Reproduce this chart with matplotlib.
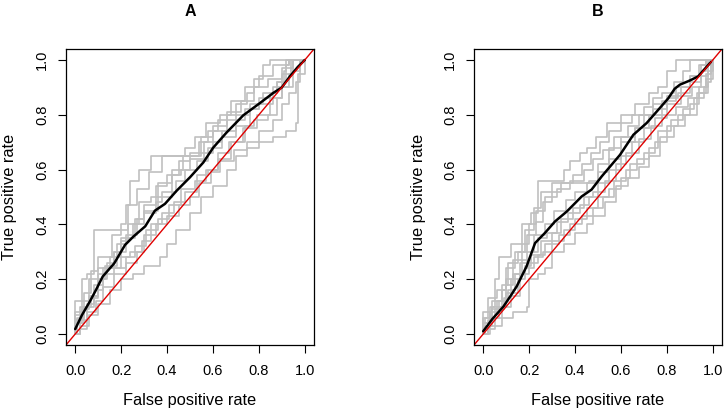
import matplotlib
matplotlib.use("Agg")
import matplotlib.pyplot as plt

plt.rcParams['font.family'] = ['Liberation Sans', 'DejaVu Sans']

# gray ROC curves, panel A: (fpr, tpr) corners after each rise
rocs_a = [
    [(0, 0), (0, 0.12), (0.03, 0.2), (0.05, 0.22), (0.08, 0.38), (0.23, 0.47), (0.24, 0.56), (0.28, 0.6),
     (0.33, 0.65), (0.54, 0.7), (0.58, 0.74), (0.62, 0.78), (0.66, 0.8), (0.7, 0.84), (0.75, 0.88),
     (0.78, 0.93), (0.82, 0.98), (0.85, 1.0), (1.0, 1.0)],
    [(0, 0), (0, 0.07), (0.04, 0.15), (0.07, 0.23), (0.1, 0.28), (0.16, 0.36), (0.2, 0.4), (0.22, 0.47),
     (0.27, 0.53), (0.32, 0.59), (0.38, 0.65), (0.48, 0.68), (0.52, 0.72), (0.57, 0.77), (0.63, 0.8),
     (0.68, 0.85), (0.74, 0.9), (0.8, 0.94), (0.86, 0.98), (0.93, 1.0), (1, 1)],
    [(0, 0), (0.02, 0.05), (0.05, 0.11), (0.08, 0.18), (0.12, 0.24), (0.17, 0.3), (0.22, 0.35), (0.26, 0.42),
     (0.3, 0.47), (0.35, 0.54), (0.4, 0.58), (0.45, 0.63), (0.5, 0.66), (0.55, 0.72), (0.6, 0.76),
     (0.66, 0.81), (0.72, 0.85), (0.78, 0.9), (0.84, 0.93), (0.9, 0.97), (0.95, 1.0), (1, 1)],
    [(0, 0), (0.02, 0.03), (0.06, 0.07), (0.1, 0.11), (0.15, 0.16), (0.2, 0.2), (0.25, 0.22), (0.3, 0.25),
     (0.37, 0.28), (0.4, 0.33), (0.44, 0.38), (0.5, 0.44), (0.55, 0.5), (0.6, 0.54), (0.66, 0.6),
     (0.7, 0.65), (0.75, 0.68), (0.8, 0.7), (0.86, 0.72), (0.92, 0.74), (0.96, 0.77), (0.97, 0.95), (1, 1)],
    [(0, 0), (0.01, 0.06), (0.04, 0.1), (0.07, 0.14), (0.1, 0.2), (0.14, 0.24), (0.2, 0.28), (0.24, 0.3),
     (0.29, 0.34), (0.33, 0.4), (0.38, 0.44), (0.43, 0.48), (0.48, 0.52), (0.53, 0.58), (0.58, 0.6),
     (0.62, 0.66), (0.67, 0.7), (0.73, 0.75), (0.79, 0.8), (0.85, 0.86), (0.9, 0.9), (0.95, 0.96),
     (0.98, 1.0), (1, 1)],
    [(0, 0), (0, 0.04), (0.03, 0.09), (0.06, 0.13), (0.1, 0.2), (0.13, 0.25), (0.18, 0.33), (0.22, 0.36),
     (0.27, 0.42), (0.3, 0.45), (0.36, 0.5), (0.42, 0.58), (0.46, 0.6), (0.5, 0.64), (0.56, 0.7),
     (0.6, 0.74), (0.66, 0.78), (0.7, 0.8), (0.76, 0.84), (0.82, 0.88), (0.88, 0.92), (0.91, 0.96),
     (0.92, 1.0), (1, 1)],
    [(0, 0), (0.02, 0.02), (0.05, 0.08), (0.09, 0.12), (0.12, 0.17), (0.17, 0.22), (0.22, 0.26), (0.27, 0.3),
     (0.3, 0.36), (0.35, 0.4), (0.4, 0.43), (0.45, 0.47), (0.5, 0.5), (0.54, 0.55), (0.59, 0.59),
     (0.63, 0.63), (0.69, 0.67), (0.75, 0.7), (0.8, 0.74), (0.86, 0.78), (0.9, 0.84), (0.93, 0.88),
     (0.96, 0.92), (0.98, 1.0), (1, 1)],
    [(0, 0), (0, 0.08), (0.03, 0.12), (0.06, 0.2), (0.1, 0.24), (0.15, 0.28), (0.2, 0.34), (0.23, 0.4),
     (0.28, 0.48), (0.33, 0.5), (0.36, 0.55), (0.42, 0.6), (0.47, 0.65), (0.55, 0.66), (0.6, 0.7),
     (0.64, 0.72), (0.7, 0.76), (0.76, 0.82), (0.8, 0.86), (0.85, 0.88), (0.88, 0.92), (0.92, 0.98),
     (0.93, 1.0), (1, 1)],
    [(0, 0), (0.01, 0.04), (0.04, 0.1), (0.08, 0.16), (0.12, 0.22), (0.17, 0.24), (0.22, 0.28), (0.26, 0.32),
     (0.31, 0.38), (0.36, 0.42), (0.41, 0.47), (0.46, 0.53), (0.52, 0.56), (0.57, 0.6), (0.62, 0.64),
     (0.68, 0.7), (0.74, 0.76), (0.78, 0.78), (0.84, 0.8), (0.88, 0.86), (0.9, 0.9), (0.93, 0.95),
     (0.95, 1.0), (1, 1)],
    [(0, 0), (0, 0.05), (0.02, 0.1), (0.06, 0.14), (0.1, 0.22), (0.14, 0.26), (0.17, 0.3), (0.2, 0.35),
     (0.25, 0.4), (0.3, 0.44), (0.35, 0.48), (0.38, 0.52), (0.44, 0.56), (0.48, 0.6), (0.53, 0.63),
     (0.58, 0.68), (0.64, 0.74), (0.7, 0.78), (0.74, 0.82), (0.8, 0.84), (0.86, 0.9), (0.9, 0.95),
     (0.94, 1.0), (1, 1)],
]

rocs_b = [
    [(0, 0), (0, 0.04), (0.03, 0.1), (0.05, 0.2), (0.07, 0.28), (0.12, 0.33), (0.17, 0.4), (0.21, 0.44),
     (0.24, 0.56), (0.35, 0.6), (0.38, 0.63), (0.42, 0.66), (0.45, 0.68), (0.49, 0.72), (0.54, 0.77),
     (0.6, 0.8), (0.66, 0.84), (0.72, 0.88), (0.76, 0.9), (0.8, 0.96), (0.84, 1.0), (1, 1)],
    [(0, 0), (0.01, 0.06), (0.04, 0.1), (0.08, 0.16), (0.1, 0.24), (0.14, 0.3), (0.18, 0.38), (0.22, 0.46),
     (0.25, 0.52), (0.3, 0.55), (0.46, 0.56), (0.5, 0.62), (0.55, 0.68), (0.6, 0.72), (0.66, 0.75),
     (0.7, 0.8), (0.74, 0.84), (0.8, 0.87), (0.86, 0.9), (0.9, 0.94), (0.94, 0.98), (0.97, 1.0), (1, 1)],
    [(0, 0), (0.02, 0.05), (0.05, 0.09), (0.09, 0.13), (0.12, 0.2), (0.16, 0.26), (0.19, 0.3), (0.22, 0.36),
     (0.27, 0.4), (0.31, 0.45), (0.36, 0.49), (0.4, 0.52), (0.45, 0.55), (0.5, 0.59), (0.55, 0.64),
     (0.6, 0.7), (0.66, 0.75), (0.72, 0.8), (0.78, 0.85), (0.84, 0.9), (0.9, 0.94), (0.95, 0.98),
     (0.98, 1.0), (1, 1)],
    [(0, 0), (0.03, 0.03), (0.08, 0.06), (0.13, 0.08), (0.19, 0.1), (0.2, 0.2), (0.24, 0.22), (0.27, 0.24),
     (0.3, 0.3), (0.35, 0.33), (0.4, 0.37), (0.45, 0.4), (0.48, 0.43), (0.53, 0.48), (0.58, 0.54),
     (0.63, 0.57), (0.68, 0.61), (0.72, 0.65), (0.77, 0.72), (0.83, 0.76), (0.88, 0.8), (0.93, 0.88),
     (0.98, 0.92), (0.99, 0.98), (1, 1)],
    [(0, 0), (0, 0.04), (0.03, 0.08), (0.06, 0.12), (0.1, 0.18), (0.13, 0.22), (0.17, 0.27), (0.21, 0.3),
     (0.24, 0.35), (0.28, 0.37), (0.32, 0.41), (0.37, 0.44), (0.42, 0.47), (0.46, 0.5), (0.5, 0.55),
     (0.55, 0.6), (0.6, 0.65), (0.65, 0.7), (0.7, 0.75), (0.75, 0.79), (0.8, 0.84), (0.86, 0.87),
     (0.91, 0.9), (0.95, 0.94), (0.98, 0.98), (1, 1)],
    [(0, 0), (0.02, 0.02), (0.05, 0.06), (0.08, 0.1), (0.12, 0.14), (0.16, 0.22), (0.2, 0.26), (0.24, 0.29),
     (0.27, 0.33), (0.33, 0.36), (0.38, 0.4), (0.43, 0.43), (0.48, 0.46), (0.52, 0.5), (0.57, 0.56),
     (0.62, 0.6), (0.67, 0.64), (0.72, 0.68), (0.76, 0.74), (0.82, 0.78), (0.87, 0.82), (0.92, 0.86),
     (0.96, 0.9), (0.98, 0.96), (1, 1)],
    [(0, 0), (0, 0.06), (0.02, 0.13), (0.06, 0.16), (0.1, 0.2), (0.13, 0.27), (0.17, 0.33), (0.2, 0.4),
     (0.23, 0.45), (0.27, 0.5), (0.32, 0.53), (0.38, 0.56), (0.44, 0.6), (0.48, 0.64), (0.52, 0.67),
     (0.57, 0.72), (0.63, 0.76), (0.68, 0.8), (0.74, 0.82), (0.8, 0.86), (0.85, 0.88), (0.9, 0.92),
     (0.95, 0.96), (0.97, 1.0), (1, 1)],
    [(0, 0), (0.02, 0.04), (0.04, 0.09), (0.07, 0.12), (0.11, 0.16), (0.14, 0.22), (0.18, 0.25), (0.21, 0.29),
     (0.25, 0.34), (0.3, 0.37), (0.34, 0.42), (0.39, 0.46), (0.44, 0.5), (0.48, 0.52), (0.53, 0.56),
     (0.58, 0.62), (0.62, 0.66), (0.68, 0.71), (0.73, 0.76), (0.78, 0.8), (0.84, 0.83), (0.89, 0.86),
     (0.94, 0.9), (0.97, 0.95), (0.99, 1.0), (1, 1)],
    [(0, 0), (0.01, 0.03), (0.04, 0.06), (0.07, 0.1), (0.1, 0.15), (0.15, 0.2), (0.18, 0.24), (0.22, 0.28),
     (0.26, 0.3), (0.3, 0.34), (0.35, 0.38), (0.4, 0.42), (0.45, 0.46), (0.5, 0.5), (0.55, 0.53),
     (0.6, 0.57), (0.64, 0.62), (0.7, 0.66), (0.75, 0.7), (0.8, 0.76), (0.85, 0.8), (0.9, 0.84),
     (0.94, 0.88), (0.97, 0.93), (1.0, 1.0)],
    [(0, 0), (0, 0.08), (0.04, 0.12), (0.08, 0.18), (0.11, 0.26), (0.15, 0.3), (0.19, 0.36), (0.23, 0.41),
     (0.26, 0.48), (0.3, 0.52), (0.34, 0.55), (0.39, 0.58), (0.43, 0.62), (0.47, 0.66), (0.51, 0.7),
     (0.55, 0.74), (0.6, 0.77), (0.65, 0.8), (0.7, 0.83), (0.74, 0.86), (0.78, 0.88), (0.83, 0.92),
     (0.87, 0.96), (0.9, 1.0), (1, 1)],
]

# averaged curves (black)
mean_a_fpr = [0.0, 0.03, 0.064, 0.09, 0.12, 0.17, 0.217, 0.254, 0.305, 0.347, 0.391, 0.442, 0.5, 0.558,
              0.601, 0.659, 0.732, 0.805, 0.863, 0.899, 0.936, 0.97, 1.0]
mean_a_tpr = [0.018, 0.07, 0.119, 0.16, 0.21, 0.258, 0.325, 0.356, 0.393, 0.45, 0.475, 0.523, 0.572, 0.626,
              0.68, 0.735, 0.798, 0.843, 0.88, 0.899, 0.941, 0.975, 1.0]
mean_b_fpr = [0.0, 0.04, 0.088, 0.12, 0.146, 0.189, 0.226, 0.269, 0.313, 0.364, 0.429, 0.472, 0.516, 0.596,
              0.654, 0.712, 0.756, 0.806, 0.834, 0.857, 0.9, 0.936, 0.992]
mean_b_tpr = [0.01, 0.055, 0.10, 0.14, 0.174, 0.247, 0.332, 0.369, 0.411, 0.447, 0.502, 0.527, 0.575, 0.654,
              0.727, 0.77, 0.812, 0.86, 0.895, 0.91, 0.925, 0.94, 0.993]

ticks = [0.0, 0.2, 0.4, 0.6, 0.8, 1.0]
tick_labels = ["0.0", "0.2", "0.4", "0.6", "0.8", "1.0"]

W, H = 726, 413
fig = plt.figure(figsize=(W / 100, H / 100), dpi=100)

panels = [("A", 66, rocs_a, mean_a_fpr, mean_a_tpr),
          ("B", 474, rocs_b, mean_b_fpr, mean_b_tpr)]

for title, left_px, rocs, mfpr, mtpr in panels:
    ax = fig.add_axes([left_px / W, 68 / H, 248 / W, 296 / H])
    for curve in rocs:
        xs = [p[0] for p in curve]
        ys = [p[1] for p in curve]
        ax.plot(xs, ys, drawstyle="steps-post", color="#c0c0c0", lw=1.2)
    ax.plot(mfpr, mtpr, color="black", lw=1.8, solid_capstyle="round")
    ax.axline((0, 0), (1, 1), color="#e00000", lw=1.0)

    ax.set_xlim(-0.04, 1.04)
    ax.set_ylim(-0.04, 1.04)
    ax.set_xticks(ticks)
    ax.set_xticklabels(tick_labels)
    ax.set_yticks(ticks)
    ax.set_yticklabels(tick_labels, rotation=90, va="center")
    ax.tick_params(axis="x", length=5.5, width=0.8, labelsize=10.5, pad=8.5)
    ax.tick_params(axis="y", length=5.5, width=0.8, labelsize=10.5, pad=6.5)
    for s in ax.spines.values():
        s.set_linewidth(0.9)

    cx = (left_px + 124) / W
    fig.text(cx, 1 - 11 / H, title, ha="center", va="center", fontsize=11.5, fontweight="bold")
    fig.text(cx, 1 - 400 / H, "False positive rate", ha="center", va="center", fontsize=11.8)
    fig.text((left_px - 56) / W, 1 - 197 / H, "True positive rate", ha="center", va="center",
             rotation=90, fontsize=11.8)

fig.savefig("out.png", dpi=100)
